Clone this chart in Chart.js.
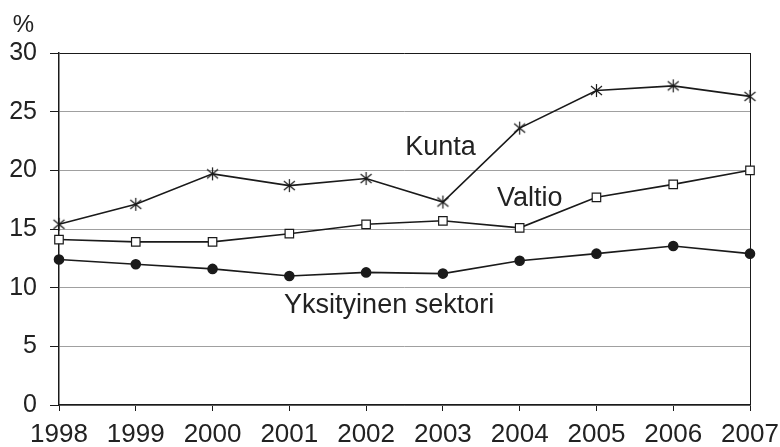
<!DOCTYPE html>
<html>
<head>
<meta charset="utf-8">
<script src="https://cdn.jsdelivr.net/npm/chart.js@4/dist/chart.umd.min.js"></script>
<style>
  html, body { margin: 0; padding: 0; background: #fff; }
  #wrap { width: 780px; height: 447px; }
</style>
</head>
<body>
<div id="wrap"><canvas id="myChart" width="780" height="447"></canvas></div>
<script>
const years = ['1998', '1999', '2000', '2001', '2002', '2003', '2004', '2005', '2006', '2007'];
const kunta = [15.4, 17.1, 19.7, 18.7, 19.3, 17.3, 23.6, 26.8, 27.2, 26.3];
const valtio = [14.1, 13.9, 13.9, 14.6, 15.4, 15.7, 15.1, 17.7, 18.8, 20.0];
const yksityinen = [12.4, 12.0, 11.6, 11.0, 11.3, 11.2, 12.3, 12.9, 13.55, 12.9];

// line labels: [text, x index, y value at baseline]
const lineLabels = [
  ['Kunta', 4.97, 21.3],
  ['Valtio', 6.13, 16.96],
  ['Yksityinen sektori', 4.30, 7.84]
];

const FONT = '"Liberation Sans", Arial, sans-serif';

// asterisk marker like the one in the picture
const starImg = document.createElement('canvas');
starImg.width = 15; starImg.height = 15;
(() => {
  const c = starImg.getContext('2d');
  c.strokeStyle = '#1a1a1a';
  c.lineWidth = 1.2;
  c.beginPath();
  c.moveTo(7.5, 1); c.lineTo(7.5, 14);
  c.moveTo(2, 3); c.lineTo(13, 12);
  c.moveTo(13, 3); c.lineTo(2, 12);
  c.stroke();
})();

const labelPlugin = {
  id: 'lineLabels',
  afterDatasetsDraw(chart) {
    const ctx = chart.ctx;
    const x = chart.scales.x, y = chart.scales.y;
    ctx.save();
    ctx.font = '27px ' + FONT;
    ctx.fillStyle = '#222';
    ctx.textAlign = 'center';
    ctx.textBaseline = 'alphabetic';
    lineLabels.forEach(l => {
      ctx.fillText(l[0], x.getPixelForValue(l[1]), y.getPixelForValue(l[2]));
    });
    ctx.font = '24px ' + FONT;
    ctx.fillText('%', 23.5, 32);
    ctx.restore();
  }
};

const ctx = document.getElementById('myChart').getContext('2d');
new Chart(ctx, {
  type: 'line',
  data: {
    labels: years,
    datasets: [{
      label: 'Kunta',
      data: kunta,
      borderColor: '#1a1a1a',
      borderWidth: 1.6,
      pointStyle: starImg,
      pointRadius: 7
    }, {
      label: 'Valtio',
      data: valtio,
      borderColor: '#1a1a1a',
      borderWidth: 1.6,
      pointStyle: 'rect',
      pointRadius: 6,
      pointBackgroundColor: '#fff',
      pointBorderColor: '#1a1a1a',
      pointBorderWidth: 1.2
    }, {
      label: 'Yksityinen sektori',
      data: yksityinen,
      borderColor: '#1a1a1a',
      borderWidth: 1.6,
      pointStyle: 'circle',
      pointRadius: 4.5,
      pointBackgroundColor: '#1a1a1a',
      pointBorderColor: '#1a1a1a'
    }]
  },
  options: {
    responsive: false,
    animation: false,
    layout: { padding: { top: 53, right: 30, left: 0, bottom: 0 } },
    plugins: {
      legend: { display: false },
      tooltip: { enabled: false }
    },
    scales: {
      x: {
        offset: false,
        grid: {
          color: c => c.index === years.length - 1 ? '#1a1a1a' : 'rgba(0,0,0,0)',
          tickColor: '#1a1a1a',
          tickLength: 6
        },
        border: { color: '#1a1a1a', width: 1.5 },
        ticks: {
          color: '#222',
          font: { family: FONT, size: 26 },
          maxRotation: 0,
          autoSkip: false,
          padding: 8
        },
        afterFit: s => {
          s.height = 42;
          s.paddingLeft = 0;
          s.paddingRight = 0;
        }
      },
      y: {
        min: 0,
        max: 30,
        grid: {
          color: c => c.tick && c.tick.value === 30 ? '#1a1a1a' : '#a0a0a0',
          tickColor: '#1a1a1a',
          tickLength: 9
        },
        border: { color: '#1a1a1a', width: 1.5 },
        ticks: {
          stepSize: 5,
          color: '#222',
          font: { family: FONT, size: 25 },
          padding: 13
        },
        afterFit: s => { s.width = 59; }
      }
    }
  },
  plugins: [labelPlugin]
});
</script>
</body>
</html>
